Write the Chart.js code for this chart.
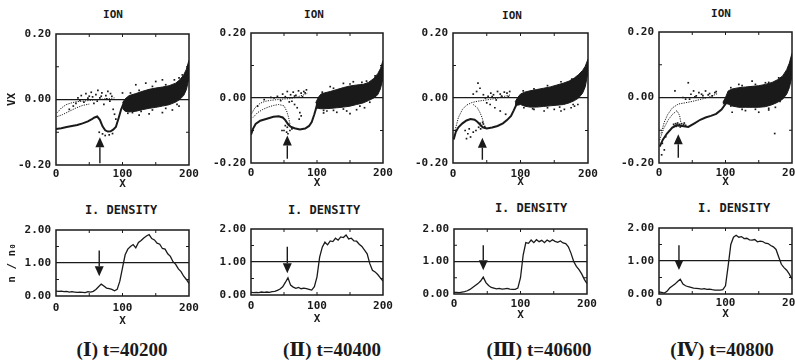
<!DOCTYPE html>
<html>
<head>
<meta charset="utf-8">
<script src="https://cdn.jsdelivr.net/npm/chart.js@4.4.1/dist/chart.umd.min.js"></script>
<style>
  html, body { margin: 0; padding: 0; background: #fff; }
  body { width: 795px; height: 362px; position: relative; overflow: hidden; }
  canvas { position: absolute; }
  .lbl { position: absolute; transform: translate(-50%, -50%); white-space: nowrap; color: #1a1a1a;
         font-family: "DejaVu Sans Mono", monospace; font-weight: bold; font-size: 11px; }
  .big { font-size: 12px; }
  .cap { font-family: "Liberation Serif", "DejaVu Serif", "Noto Sans CJK JP", serif; font-size: 19px; }
</style>
</head>
<body>
<script>
// ---------------------------------------------------------------------------
// data (x in grid units, v = VX, n = n/n0)
// ---------------------------------------------------------------------------
const xTicks = [0, 100, 200];
const vTicks = [-0.2, 0, 0.2];
const nTicks = [0, 1, 2];
const captions = ["(Ⅰ) t=40200", "(Ⅱ) t=40400", "(Ⅲ) t=40600", "(Ⅳ) t=40800"];

// arrows: x, tail, tip
const topArrowX    = [66, 55, 43.5, 29];
const topArrowFrom = [-0.195, -0.187, -0.19, -0.184];
const topArrowTo   = [-0.115, -0.115, -0.122, -0.112];
const denArrowX    = [65, 55, 44, 30];
const denArrowFrom = [1.38, 1.46, 1.5, 1.48];
const denArrowTo   = [0.6, 0.66, 0.73, 0.73];

// (I) phase space
const p1MainX = [0, 8, 16, 24, 32, 40, 48, 54, 58, 62, 66, 70, 74, 78, 82, 86, 90, 94, 98, 102];
const p1MainV = [-0.090, -0.088, -0.084, -0.081, -0.078, -0.073, -0.067, -0.060, -0.055, -0.052, -0.062, -0.082, -0.094, -0.098, -0.097, -0.092, -0.084, -0.058, -0.030, -0.010];
const p1UpX = [2, 8, 15, 22, 30, 40, 50, 60, 70, 80, 88];
const p1UpV = [-0.040, -0.026, -0.016, -0.011, -0.007, -0.005, -0.003, -0.001, 0.001, 0.003, 0.005];
const p1LoX = [2, 10, 20, 30, 40, 50];
const p1LoV = [-0.052, -0.046, -0.036, -0.026, -0.018, -0.014];
const p1BlobX   = [100, 104, 110, 120, 130, 140, 150, 160, 170, 180, 186, 192, 196, 200];
const p1BlobTop = [-0.010, 0.002, 0.012, 0.018, 0.025, 0.031, 0.035, 0.038, 0.042, 0.050, 0.060, 0.075, 0.092, 0.120];
const p1BlobBot = [-0.028, -0.036, -0.038, -0.036, -0.031, -0.027, -0.024, -0.020, -0.016, -0.008, 0.000, 0.012, 0.030, 0.065];
const p1DotX = [20, 26, 33, 38, 42, 45, 50, 53, 57, 60, 63, 66, 69, 72, 75, 78, 81, 84, 86, 88, 90, 65, 70, 74, 80, 85, 120, 135, 150, 160, 178, 125, 140, 160, 175, 185, 100,
                108, 115, 128, 145, 165, 182, 112, 125, 145, 165, 185, 190, 30, 36, 48, 55, 62, 68, 76, 82];
const p1DotV = [-0.030, -0.020, 0.005, 0.012, -0.008, 0.018, 0.010, 0.022, -0.012, 0.015, 0.028, 0.005, 0.020, -0.015, 0.012, 0.025, -0.005, 0.010, -0.030, -0.045, -0.060, -0.100, -0.105, -0.110, -0.108, -0.104, 0.045, 0.050, 0.055, 0.060, 0.060, -0.048, -0.044, -0.040, -0.032, -0.020, 0.020,
                -0.042, -0.040, -0.036, -0.032, -0.027, -0.015, 0.020, 0.028, 0.040, 0.045, 0.066, 0.075, -0.012, -0.003, 0.004, 0.008, -0.005, 0.010, 0.002, 0.018];

// (II) phase space
const p2MainX = [0, 3, 7, 14, 24, 34, 42, 48, 52, 56, 60, 66, 74, 82, 88, 92, 96, 100, 104];
const p2MainV = [-0.113, -0.095, -0.080, -0.070, -0.064, -0.058, -0.056, -0.060, -0.068, -0.080, -0.088, -0.093, -0.097, -0.094, -0.086, -0.074, -0.050, -0.022, -0.005];
const p2UpX = [1, 6, 14, 22, 30, 40, 50, 60, 70, 80, 86];
const p2UpV = [-0.048, -0.030, -0.016, -0.010, -0.007, -0.005, -0.003, -0.002, 0.003, 0.010, 0.015];
const p2LoX = [3, 10, 18, 26, 34, 42, 50, 54, 57, 59];
const p2LoV = [-0.060, -0.045, -0.035, -0.028, -0.023, -0.020, -0.024, -0.040, -0.060, -0.080];
const p2BlobX   = [98, 102, 106, 112, 120, 130, 140, 150, 160, 170, 178, 186, 192, 196, 200];
const p2BlobTop = [-0.015, 0.002, 0.012, 0.016, 0.020, 0.026, 0.032, 0.037, 0.040, 0.042, 0.048, 0.060, 0.075, 0.090, 0.115];
const p2BlobBot = [-0.030, -0.032, -0.033, -0.033, -0.032, -0.030, -0.028, -0.025, -0.020, -0.015, -0.008, 0.000, 0.010, 0.028, 0.060];
const p2DotX = [52, 55, 57, 59, 54, 62, 50, 56, 47, 40, 48, 55, 60, 64, 68, 72, 76, 80, 84, 62, 66, 70, 74, 76, 73, 30, 20, 10, 115, 130, 145, 160, 172, 120, 140, 155, 168, 110, 150,
                110, 125, 140, 165, 180, 108, 125, 150, 175, 188, 35, 45, 52, 58, 66, 78, 82];
const p2DotV = [-0.085, -0.090, -0.082, -0.100, -0.105, -0.095, -0.100, -0.110, -0.100, 0.005, 0.012, 0.020, 0.010, 0.018, 0.008, 0.022, 0.015, 0.020, 0.025, -0.010, -0.020, -0.030, -0.045, -0.055, -0.065, 0.002, -0.005, -0.025, -0.040, -0.044, -0.040, -0.036, -0.030, 0.035, 0.045, 0.050, 0.048, -0.046, -0.048,
                -0.038, -0.038, -0.034, -0.025, -0.013, 0.018, 0.030, 0.043, 0.052, 0.068, 0.000, -0.008, 0.004, -0.012, 0.006, 0.004, 0.016];

// (III) phase space
const p3MainX = [1, 4, 8, 14, 20, 26, 32, 36, 40, 44, 50, 58, 66, 74, 80, 86, 90, 94, 98];
const p3MainV = [-0.128, -0.105, -0.090, -0.078, -0.069, -0.065, -0.067, -0.073, -0.082, -0.090, -0.094, -0.091, -0.086, -0.078, -0.068, -0.055, -0.038, -0.020, -0.005];
const p3UpX = [3, 8, 14, 20, 28, 36, 46, 56, 66, 76, 86];
const p3UpV = [-0.100, -0.060, -0.035, -0.022, -0.014, -0.010, -0.007, -0.004, 0.000, 0.005, 0.010];
const p3LoX = [30, 36, 40, 43, 45];
const p3LoV = [-0.020, -0.030, -0.045, -0.060, -0.075];
const p3BlobX   = [92, 96, 100, 106, 114, 124, 134, 144, 154, 164, 172, 180, 186, 192, 196, 200];
const p3BlobTop = [-0.012, 0.002, 0.012, 0.018, 0.022, 0.026, 0.030, 0.034, 0.040, 0.046, 0.052, 0.062, 0.072, 0.085, 0.098, 0.120];
const p3BlobBot = [-0.020, -0.022, -0.020, -0.025, -0.028, -0.028, -0.026, -0.024, -0.022, -0.020, -0.015, -0.008, 0.000, 0.015, 0.035, 0.080];
const p3DotX = [40, 42, 45, 47, 44, 38, 41, 18, 22, 26, 30, 24, 34, 20, 40, 45, 52, 56, 60, 66, 70, 76, 80, 84, 30, 35, 55, 62, 70, 78, 50, 37, 150, 165, 175, 180, 120, 135, 185, 160,
                105, 118, 140, 158, 178, 104, 120, 140, 160, 176, 48, 58, 64, 72, 82];
const p3DotV = [-0.078, -0.085, -0.080, -0.088, -0.075, -0.090, -0.095, -0.100, -0.110, -0.120, -0.105, -0.095, -0.100, -0.125, 0.030, 0.010, 0.005, 0.015, 0.010, 0.020, 0.012, 0.018, 0.015, 0.020, 0.012, 0.020, -0.020, -0.030, -0.040, -0.050, -0.015, 0.046, -0.035, -0.035, -0.030, -0.025, -0.035, -0.040, -0.020, -0.040,
                -0.030, -0.033, -0.030, -0.028, -0.020, 0.022, 0.028, 0.038, 0.050, 0.058, 0.000, 0.004, -0.006, 0.006, 0.004];

// (IV) phase space
const p4MainX = [1, 6, 12, 20, 27, 35, 44, 54, 62, 70, 78, 86, 94, 100, 104];
const p4MainV = [-0.150, -0.128, -0.110, -0.092, -0.084, -0.087, -0.090, -0.078, -0.068, -0.061, -0.056, -0.050, -0.037, -0.020, -0.005];
const p4UpX = [3, 8, 13, 20, 29, 40, 50, 60, 70, 80, 88];
const p4UpV = [-0.110, -0.075, -0.052, -0.032, -0.020, -0.016, -0.012, -0.007, -0.002, 0.005, 0.012];
const p4LoX = [1, 7, 14, 20, 27, 31, 33];
const p4LoV = [-0.130, -0.095, -0.068, -0.052, -0.040, -0.055, -0.078];
const p4BlobX   = [96, 100, 104, 110, 120, 130, 140, 150, 160, 170, 178, 186, 192, 196, 200];
const p4BlobTop = [-0.015, 0.000, 0.020, 0.026, 0.030, 0.032, 0.034, 0.036, 0.040, 0.046, 0.054, 0.066, 0.085, 0.105, 0.135];
const p4BlobBot = [-0.020, -0.018, -0.020, -0.026, -0.030, -0.030, -0.030, -0.030, -0.028, -0.022, -0.015, -0.005, 0.010, 0.030, 0.065];
const p4DotX = [22, 25, 28, 31, 34, 37, 40, 26, 32, 29, 35, 38, 23, 5, 8, 4, 10, 24, 44, 48, 52, 56, 60, 64, 70, 76, 80, 84, 36, 40, 110, 130, 150, 165, 175, 120, 140, 160, 180, 174,
                108, 125, 145, 165, 182, 108, 125, 145, 165, 185, 46, 54, 66, 74, 86];
const p4DotV = [-0.082, -0.080, -0.078, -0.082, -0.080, -0.083, -0.085, -0.088, -0.090, -0.086, -0.087, -0.078, -0.088, -0.140, -0.160, -0.175, -0.120, 0.020, 0.045, 0.010, 0.020, 0.005, 0.015, 0.010, 0.020, 0.012, 0.005, 0.015, 0.000, -0.005, -0.045, -0.040, -0.045, -0.038, -0.030, 0.040, 0.050, 0.045, 0.060, -0.110,
                -0.026, -0.036, -0.036, -0.033, -0.012, 0.030, 0.036, 0.040, 0.046, 0.060, -0.005, 0.002, 0.006, 0.008, 0.018];

// ion density, sampled every 4 grid units
const denX = [0, 4, 8, 12, 16, 20, 24, 28, 32, 36, 40, 44, 48, 52, 56, 60, 64, 68, 72, 76, 80, 84, 88, 92, 96, 100,
              104, 108, 112, 116, 120, 124, 128, 132, 136, 140, 144, 148, 152, 156, 160, 164, 168, 172, 176, 180, 184, 188, 192, 196, 200];
const den1 = [0.15, 0.14, 0.15, 0.13, 0.14, 0.12, 0.13, 0.12, 0.11, 0.12, 0.11, 0.10, 0.13, 0.12, 0.14, 0.20, 0.28, 0.36, 0.30, 0.24,
              0.22, 0.20, 0.16, 0.20, 0.45, 0.85, 1.25, 1.42, 1.50, 1.56, 1.46, 1.62, 1.68, 1.76, 1.82, 1.86, 1.74, 1.70, 1.60, 1.57,
              1.44, 1.42, 1.28, 1.20, 1.04, 0.96, 0.82, 0.74, 0.60, 0.50, 0.38];
const den2 = [0.08, 0.07, 0.08, 0.07, 0.09, 0.08, 0.09, 0.08, 0.10, 0.11, 0.14, 0.18, 0.25, 0.38, 0.52, 0.30, 0.24, 0.20, 0.23, 0.19,
              0.21, 0.19, 0.17, 0.15, 0.25, 0.55, 1.15, 1.45, 1.60, 1.52, 1.64, 1.62, 1.72, 1.66, 1.76, 1.74, 1.82, 1.70, 1.72, 1.64,
              1.63, 1.54, 1.47, 1.36, 1.25, 0.95, 0.75, 0.70, 0.62, 0.52, 0.42];
const den3 = [0.05, 0.05, 0.04, 0.06, 0.07, 0.10, 0.14, 0.20, 0.26, 0.32, 0.40, 0.52, 0.35, 0.26, 0.20, 0.18, 0.16, 0.17, 0.15, 0.16,
              0.17, 0.15, 0.14, 0.14, 0.18, 0.50, 1.20, 1.58, 1.56, 1.66, 1.58, 1.67, 1.61, 1.65, 1.58, 1.66, 1.61, 1.67, 1.62, 1.59,
              1.63, 1.57, 1.55, 1.45, 1.25, 1.00, 0.85, 0.75, 0.62, 0.45, 0.32];
const den4 = [0.06, 0.05, 0.03, 0.08, 0.18, 0.24, 0.30, 0.38, 0.45, 0.30, 0.25, 0.22, 0.20, 0.18, 0.17, 0.16, 0.15, 0.16, 0.14, 0.15,
              0.13, 0.12, 0.12, 0.12, 0.13, 0.25, 0.85, 1.50, 1.72, 1.78, 1.72, 1.74, 1.68, 1.69, 1.64, 1.63, 1.65, 1.58, 1.60, 1.59,
              1.54, 1.53, 1.47, 1.43, 1.35, 1.12, 0.90, 0.80, 0.72, 0.60, 0.45];

// ---------------------------------------------------------------------------
const INK = "#1a1a1a";
const FONT = { family: '"DejaVu Sans Mono", monospace', size: 11, weight: "bold" };
const PAD_T = 8, PAD_R = 12;

Chart.defaults.color = INK;

const pts = (xs, ys) => xs.map((x, i) => ({ x, y: ys[i] }));
const fmt = v => (Math.abs(v) < 1e-9 ? "0.00" : v.toFixed(2));

function framePlugin(minorX, minorY, arrow) {
  return {
    id: "frame",
    afterDatasetsDraw(chart) {
      const { ctx, chartArea: a } = chart;
      const sx = chart.scales.x, sy = chart.scales.y;
      ctx.save();
      ctx.strokeStyle = INK;
      ctx.lineWidth = 1.5;
      ctx.strokeRect(a.left, a.top, a.right - a.left, a.bottom - a.top);

      // small inward ticks
      ctx.lineWidth = 1;
      ctx.beginPath();
      for (const v of minorX) {
        const p = sx.getPixelForValue(v);
        ctx.moveTo(p, a.bottom); ctx.lineTo(p, a.bottom - 3);
        ctx.moveTo(p, a.top); ctx.lineTo(p, a.top + 3);
      }
      for (const v of minorY) {
        const p = sy.getPixelForValue(v);
        ctx.moveTo(a.left, p); ctx.lineTo(a.left + 3, p);
        ctx.moveTo(a.right, p); ctx.lineTo(a.right - 3, p);
      }
      ctx.stroke();

      // marker arrow
      const ax = sx.getPixelForValue(arrow[0]);
      const y0 = sy.getPixelForValue(arrow[1]);
      const y1 = sy.getPixelForValue(arrow[2]);
      const dir = Math.sign(y1 - y0), head = 10;
      ctx.lineWidth = 1.4;
      ctx.beginPath(); ctx.moveTo(ax, y0); ctx.lineTo(ax, y1 - dir * head); ctx.stroke();
      ctx.fillStyle = INK;
      ctx.beginPath();
      ctx.moveTo(ax, y1);
      ctx.lineTo(ax - 4.5, y1 - dir * head);
      ctx.lineTo(ax + 4.5, y1 - dir * head);
      ctx.closePath(); ctx.fill();
      ctx.restore();
    },
  };
}

function mount(box, ax, datasets, yCfg, plugin) {
  const cv = document.createElement("canvas");
  const w = ax.yW + (box.R - box.L) + PAD_R;
  const h = PAD_T + (box.B - box.T) + ax.xH;
  cv.width = w; cv.height = h;
  cv.style.left = (box.L - ax.yW) + "px";
  cv.style.top = (box.T - PAD_T) + "px";
  cv.style.width = w + "px"; cv.style.height = h + "px";
  document.body.appendChild(cv);

  return new Chart(cv, {
    type: "line",
    data: { datasets },
    options: {
      responsive: false,
      animation: false,
      devicePixelRatio: 1,
      layout: { padding: { top: PAD_T, right: PAD_R, left: 0, bottom: 0 } },
      plugins: { legend: { display: false }, tooltip: { enabled: false } },
      elements: { line: { tension: 0 } },
      scales: {
        x: {
          type: "linear", min: 0, max: 200,
          afterFit: s => { s.height = ax.xH; s.paddingLeft = 0; s.paddingRight = 0; },
          afterBuildTicks: s => { s.ticks = xTicks.map(v => ({ value: v })); },
          ticks: { font: FONT, color: INK, padding: ax.xPad, maxRotation: 0, autoSkip: false },
          grid: { display: false, drawTicks: false },
          border: { display: false },
          title: { display: true, text: "X", font: FONT, color: INK, padding: { top: 0, bottom: 0 } },
        },
        y: {
          type: "linear", min: yCfg.min, max: yCfg.max,
          afterFit: s => { s.width = ax.yW; s.paddingTop = 0; s.paddingBottom = 0; },
          afterBuildTicks: s => { s.ticks = yCfg.ticks.map(v => ({ value: v })); },
          ticks: { font: FONT, color: INK, padding: 5, callback: v => fmt(v) },
          grid: {
            drawTicks: false, lineWidth: 1.3,
            color: c => (c.tick && Math.abs(c.tick.value - yCfg.ref) < 1e-9 ? INK : "rgba(0,0,0,0)"),
          },
          border: { display: false },
          title: {
            display: !!yCfg.title, text: yCfg.title || "", font: FONT, color: INK,
            padding: { top: 6, bottom: 0 },
          },
        },
      },
    },
    plugins: [plugin],
  });
}

function phaseSets(mx, mv, ux, uv, lx, lv, bx, bt, bb, dx, dv) {
  return [
    { data: pts(bx, bt), borderColor: INK, borderWidth: 1, pointRadius: 0, fill: false },
    { data: pts(bx, bb), borderColor: INK, borderWidth: 1, pointRadius: 0, fill: "-1", backgroundColor: INK },
    { data: pts(mx, mv), borderColor: INK, borderWidth: 2, pointRadius: 0, fill: false },
    { data: pts(ux, uv), borderColor: INK, borderWidth: 1, borderDash: [1.2, 1.2], pointRadius: 0, fill: false },
    { data: pts(lx, lv), borderColor: INK, borderWidth: 1, borderDash: [1.2, 1.2], pointRadius: 0, fill: false },
    { data: pts(dx, dv), showLine: false, pointRadius: 1.2, pointStyle: "rect",
      pointBackgroundColor: INK, pointBorderWidth: 0, borderWidth: 0 },
  ];
}

// plot boxes in page pixels
const topBoxes = [
  { L: 56, R: 189, T: 34, B: 165 },
  { L: 251, R: 383, T: 33, B: 163 },
  { L: 453, R: 588, T: 33, B: 163 },
  { L: 659, R: 792, T: 32, B: 163 },
];
const denBoxes = [
  { L: 56, R: 189, T: 230, B: 296 },
  { L: 251, R: 383, T: 229, B: 295 },
  { L: 454, R: 587, T: 229, B: 294 },
  { L: 659, R: 792, T: 228, B: 294 },
];
const topAxes = [
  { yW: 56, xH: 26, xPad: 3 },
  { yW: 45, xH: 27, xPad: 4 },
  { yW: 45, xH: 26, xPad: 5 },
  { yW: 45, xH: 26, xPad: 4 },
];
const denAxes = [
  { yW: 56, xH: 32, xPad: 6 },
  { yW: 45, xH: 31, xPad: 5 },
  { yW: 45, xH: 28, xPad: 4 },
  { yW: 45, xH: 27, xPad: 3 },
];

const phase = [
  phaseSets(p1MainX, p1MainV, p1UpX, p1UpV, p1LoX, p1LoV, p1BlobX, p1BlobTop, p1BlobBot, p1DotX, p1DotV),
  phaseSets(p2MainX, p2MainV, p2UpX, p2UpV, p2LoX, p2LoV, p2BlobX, p2BlobTop, p2BlobBot, p2DotX, p2DotV),
  phaseSets(p3MainX, p3MainV, p3UpX, p3UpV, p3LoX, p3LoV, p3BlobX, p3BlobTop, p3BlobBot, p3DotX, p3DotV),
  phaseSets(p4MainX, p4MainV, p4UpX, p4UpV, p4LoX, p4LoV, p4BlobX, p4BlobTop, p4BlobBot, p4DotX, p4DotV),
];
const dens = [den1, den2, den3, den4];

for (let i = 0; i < 4; i++) {
  mount(topBoxes[i], topAxes[i], phase[i],
    { min: -0.2, max: 0.2, ticks: vTicks, ref: 0, title: i === 0 ? "VX" : "" },
    framePlugin([50, 100, 150], [-0.1, 0.1], [topArrowX[i], topArrowFrom[i], topArrowTo[i]]));

  mount(denBoxes[i], denAxes[i],
    [{ data: pts(denX, dens[i]), borderColor: INK, borderWidth: 1.3, pointRadius: 0, fill: false }],
    { min: 0, max: 2, ticks: nTicks, ref: 1, title: i === 0 ? "n / n\u2080" : "" },
    framePlugin([50, 100, 150], [0.5, 1.5], [denArrowX[i], denArrowFrom[i], denArrowTo[i]]));
}

// titles and captions
const textItems = [
  ["ION", 113, 14, ""], ["ION", 314, 14, ""], ["ION", 512, 15, ""], ["ION", 721, 13, ""],
  ["I. DENSITY", 121, 210, "big"], ["I. DENSITY", 324, 210, "big"],
  ["I. DENSITY", 531, 208, "big"], ["I. DENSITY", 734, 208, "big"],
  [captions[0], 122, 349, "cap"], [captions[1], 332, 349, "cap"],
  [captions[2], 539, 349, "cap"], [captions[3], 722, 349, "cap"],
];
for (const [t, x, y, cls] of textItems) {
  const d = document.createElement("div");
  d.className = "lbl " + cls;
  d.textContent = t;
  d.style.left = x + "px";
  d.style.top = y + "px";
  document.body.appendChild(d);
}
</script>
</body>
</html>
